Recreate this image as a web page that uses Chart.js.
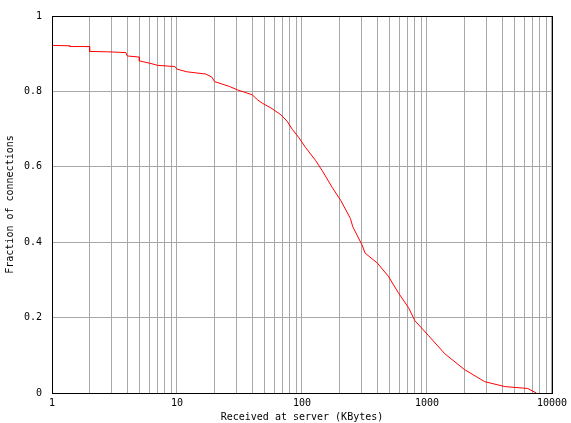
<!DOCTYPE html>
<html>
<head>
<meta charset="utf-8">
<script src="https://cdn.jsdelivr.net/npm/chart.js@4.4.0/dist/chart.umd.min.js"></script>
<style>
  html, body { margin: 0; padding: 0; background: #fff; }
  #wrap { width: 571px; height: 423px; }
</style>
</head>
<body>
<div id="wrap"><canvas id="myChart" width="571" height="423"></canvas></div>
<script>
// received bytes (KBytes) and fraction of connections (corners of the steps at the start)
var sizeKB = [1, 1.39, 1.39, 2, 2, 2.8, 3.9, 4, 5, 5, 6.2, 7, 9.6, 10, 12, 17, 19, 20, 26.3, 30.5, 40, 44, 48, 56.5, 67.8, 76, 83.8,
  94.6, 107, 129, 145, 174, 204, 244, 255, 302, 320, 400, 490, 590, 710, 800, 1030, 1390, 2000, 2900, 4200, 6400, 7500];
var fraction = [0.922, 0.921, 0.919, 0.919, 0.906, 0.905, 0.903, 0.894, 0.891, 0.881, 0.874, 0.869, 0.866, 0.859, 0.852, 0.846, 0.838, 0.826, 0.813, 0.804, 0.791, 0.778, 0.769, 0.756, 0.738, 0.721, 0.699,
  0.677, 0.651, 0.616, 0.590, 0.546, 0.511, 0.463, 0.441, 0.393, 0.371, 0.345, 0.310, 0.266, 0.227, 0.192, 0.152, 0.104, 0.062, 0.030, 0.017, 0.012, 0];
var xTicks = [];
for (var d = 1; d < 10000; d *= 10) {
  for (var m = 1; m < 10; m++) xTicks.push(d * m);
}
xTicks.push(10000);
var xLabels = [1, 10, 100, 1000, 10000];
var yTicks = [0, 0.2, 0.4, 0.6, 0.8, 1];

var points = [];
for (var i = 0; i < sizeKB.length; i++) {
  points.push({x: sizeKB[i], y: fraction[i]});
}

var monoFont = {family: "'DejaVu Sans Mono', monospace", size: 10};

// box around the plot like gnuplot does
var frame = {
  id: 'frame',
  afterDraw: function(chart) {
    var a = chart.chartArea, c = chart.ctx;
    c.save();
    c.strokeStyle = '#000';
    c.lineWidth = 1;
    c.strokeRect(Math.round(a.left) + 0.5, Math.round(a.top) + 0.5, Math.round(a.right - a.left), Math.round(a.bottom - a.top));
    c.restore();
  }
};

var ctx = document.getElementById("myChart").getContext('2d');
var myChart = new Chart(ctx, {
  type: 'line',
  data: {
    datasets: [{
      data: points,
      borderColor: '#ff0000',
      borderWidth: 1,
      pointRadius: 0,
      tension: 0,
      fill: false
    }]
  },
  options: {
    responsive: false,
    animation: false,
    layout: {padding: {top: 12, right: 17, left: 0, bottom: 0}},
    plugins: {legend: {display: false}, tooltip: {enabled: false}},
    scales: {
      x: {
        type: 'logarithmic',
        min: 1,
        max: 10000,
        afterBuildTicks: function(scale) {
          scale.ticks = xTicks.map(function(v) { return {value: v}; });
        },
        afterFit: function(scale) { scale.height = 30; },
        ticks: {
          autoSkip: false,
          maxRotation: 0,
          color: '#000',
          font: monoFont,
          padding: 4,
          callback: function(v) { return xLabels.indexOf(v) >= 0 ? String(v) : ''; }
        },
        grid: {color: '#a8a8a8', lineWidth: 1, drawTicks: false},
        border: {color: '#000'},
        title: {display: true, text: 'Received at server (KBytes)', color: '#000', font: monoFont, padding: {top: 0, bottom: 0}}
      },
      y: {
        min: 0,
        max: 1,
        afterBuildTicks: function(scale) {
          scale.ticks = yTicks.map(function(v) { return {value: v}; });
        },
        afterFit: function(scale) { scale.width = 52; },
        ticks: {
          color: '#000',
          font: monoFont,
          padding: 10,
          callback: function(v) { return String(Math.round(v * 10) / 10); }
        },
        grid: {color: '#a8a8a8', lineWidth: 1, drawTicks: false},
        border: {color: '#000'},
        title: {display: true, text: 'Fraction of connections', color: '#000', font: monoFont, padding: {top: 4, bottom: 0}}
      }
    }
  },
  plugins: [frame]
});
</script>
</body>
</html>
